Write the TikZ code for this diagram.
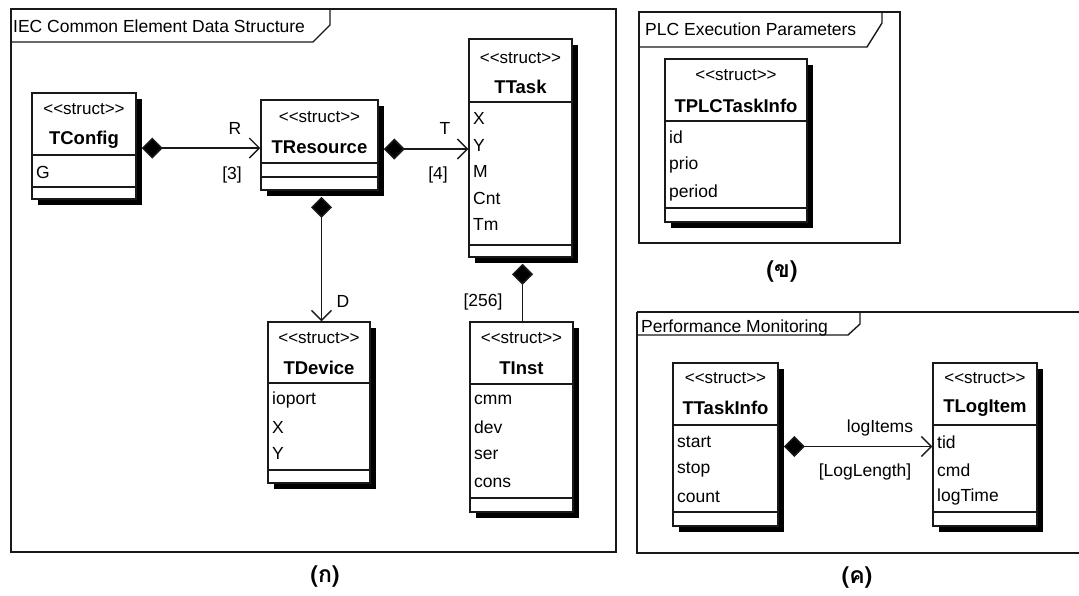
\documentclass[tikz,border=0pt]{standalone}
\usepackage{fontspec}
\setmainfont{Liberation Sans}
\newfontfamily\thaifont[Script=Thai]{Loma}
\usetikzlibrary{arrows.meta,shadows,fit,calc}

% stereotype text, kerned so the angle brackets stay plain characters
\newcommand\sttext{<\kern0pt<struct>\kern0pt>}

% a struct box: name, left, top, right, bottom, name separator, attribute separator
\newcommand\structbox[7]{%
  \node[umlbox, fit={(#2,#3)(#4,#5)}] (#1) {};
  \draw[boxline] (#2,#6) -- (#4,#6);
  \draw[boxline] (#2,#7) -- (#4,#7);
}

\begin{document}
\begin{tikzpicture}[x=1pt,y=-1pt,
  frameline/.style={line width=1.4pt, draw=black!90},
  boxline/.style={line width=1.4pt, draw=black!90},
  umlbox/.style={draw=black!90, line width=1.5pt, fill=white, inner sep=0pt,
    drop shadow={shadow xshift=5.5pt, shadow yshift=-5.5pt, fill=black, opacity=1}},
  tabtext/.style={anchor=west, inner sep=0pt, font=\fontsize{17.5}{19}\selectfont},
  stereo/.style={inner sep=0pt, font=\fontsize{17}{19}\selectfont},
  cname/.style={inner sep=0pt, font=\fontsize{18.5}{21}\selectfont\bfseries},
  attr/.style={anchor=west, inner sep=0pt, font=\fontsize{17.5}{20}\selectfont},
  role/.style={inner sep=0pt, font=\fontsize{17.5}{20}\selectfont},
  caption/.style={inner sep=0pt, font=\fontsize{23}{26}\selectfont\thaifont\bfseries},
  comp/.style={line width=1.5pt, draw=black!90,
    {Diamond[length=21pt,width=21pt,fill=black]}-{Straight Barb[length=10pt,width=20pt,line width=1.4pt]}},
  compplain/.style={line width=1.5pt, draw=black!90,
    {Diamond[length=21pt,width=21pt,fill=black]}-}
]
\useasboundingbox (0,0) rectangle (1079,595);

% ---------------- IEC Common Element Data Structure ----------------
\draw[frameline] (11,9) rectangle (616,552);
\draw[frameline] (11,42) -- (313,42) -- (330,25) -- (330,9);
\node[tabtext] (titleA) at (13,26) {IEC Common Element Data Structure};

\structbox{tconfig}{32}{93}{136}{199}{155}{187}
\node[stereo] (tconfig-s) at (84,109) {\sttext};
\node[cname]  (tconfig-n) at (84,140) {TConfig};
\node[attr]   (tconfig-a1) at (36,172) {G};

\structbox{tresource}{261}{100}{378}{190}{163}{177}
\node[stereo] (tresource-s) at (319.5,117) {\sttext};
\node[cname]  (tresource-n) at (319.5,147) {TResource};

\structbox{ttask}{469}{39}{572}{257}{102}{245}
\node[stereo] (ttask-s) at (520.5,58) {\sttext};
\node[cname]  (ttask-n) at (520.5,87) {TTask};
\node[attr] (ttask-a1) at (473,118) {X};
\node[attr] (ttask-a2) at (473,145) {Y};
\node[attr] (ttask-a3) at (473,171) {M};
\node[attr] (ttask-a4) at (473,198) {Cnt};
\node[attr] (ttask-a5) at (473,224) {Tm};

\structbox{tdevice}{268}{322}{370}{483}{383}{470}
\node[stereo] (tdevice-s) at (319,338) {\sttext};
\node[cname]  (tdevice-n) at (319,368) {TDevice};
\node[attr] (tdevice-a1) at (272,400) {ioport};
\node[attr] (tdevice-a2) at (272,427) {X};
\node[attr] (tdevice-a3) at (272,453) {Y};

\structbox{tinst}{470}{322}{573}{512}{384}{498}
\node[stereo] (tinst-s) at (521.5,338) {\sttext};
\node[cname]  (tinst-n) at (521.5,368) {TInst};
\node[attr] (tinst-a1) at (474,400) {cmm};
\node[attr] (tinst-a2) at (474,427) {dev};
\node[attr] (tinst-a3) at (474,455) {ser};
\node[attr] (tinst-a4) at (474,483) {cons};

% compositions
\draw[comp] ([xshift=5pt,yshift=-2pt]tconfig.east) -- ([yshift=-2pt]tconfig.east -| tresource.west);
\node[role] (lblR) at (235,128) {R};
\node[role] (lbl3) at (232,175) {[3]};

\draw[comp] ([xshift=5pt,yshift=-4pt]tresource.east) -- ([yshift=-4pt]tresource.east -| ttask.west);
\node[role] (lblT) at (445,128) {T};
\node[role] (lbl4) at (438,175) {[4]};

\draw[comp] ([xshift=2pt,yshift=-6pt]tresource.south) -- ([xshift=2pt]tresource.south |- tdevice.north);
\node[role] (lblD) at (343,301) {D};

\draw[compplain] ([xshift=2pt,yshift=-6pt]ttask.south) -- ([xshift=2pt]ttask.south |- tinst.north);
\node[role] (lbl256) at (483,302) {[256]};

\node[caption] (capA) at (325,577) {(ก)};

% ---------------- PLC Execution Parameters ----------------
\draw[frameline] (639,12) rectangle (900,243);
\draw[frameline] (639,47) -- (867,47) -- (882,23) -- (882,12);
\node[tabtext] (titleB) at (645,29) {PLC Execution Parameters};

\structbox{tplc}{665}{59}{807}{222}{121}{208}
\node[stereo] (tplc-s) at (736,75) {\sttext};
\node[cname]  (tplc-n) at (736,106) {TPLCTaskInfo};
\node[attr] (tplc-a1) at (669,137) {id};
\node[attr] (tplc-a2) at (669,165) {prio};
\node[attr] (tplc-a3) at (669,193) {period};

\node[caption] (capB) at (782,272) {(ข)};

% ---------------- Performance Monitoring ----------------
\draw[frameline] (637,312) -- (1079,312);
\draw[frameline] (637,312) -- (637,553) -- (1079,553);
\draw[frameline] (637,335) -- (848,335) -- (860,324) -- (860,312);
\node[tabtext] (titleC) at (641,328) {Performance Monitoring};

\structbox{ttaskinfo}{673}{363}{778}{526}{425}{512}
\node[stereo] (ttaskinfo-s) at (725.5,378) {\sttext};
\node[cname]  (ttaskinfo-n) at (725.5,408) {TTaskInfo};
\node[attr] (ttaskinfo-a1) at (677,442) {start};
\node[attr] (ttaskinfo-a2) at (677,470) {stop};
\node[attr] (ttaskinfo-a3) at (677,497) {count};

\structbox{tlogitem}{933}{363}{1037}{526}{425}{512}
\node[stereo] (tlogitem-s) at (985,378) {\sttext};
\node[cname]  (tlogitem-n) at (985,408) {TLogItem};
\node[attr] (tlogitem-a1) at (937,442) {tid};
\node[attr] (tlogitem-a2) at (937,470) {cmd};
\node[attr] (tlogitem-a3) at (937,497) {logTime};

\draw[comp] ([xshift=5pt,yshift=-2pt]ttaskinfo.east) -- ([yshift=-2pt]ttaskinfo.east -| tlogitem.west);
\node[role] (lblItems) at (880,428) {logItems};
\node[role] (lblLen) at (865,472) {[LogLength]};

\node[caption] (capC) at (857,578) {(ค)};
\end{tikzpicture}
\end{document}
